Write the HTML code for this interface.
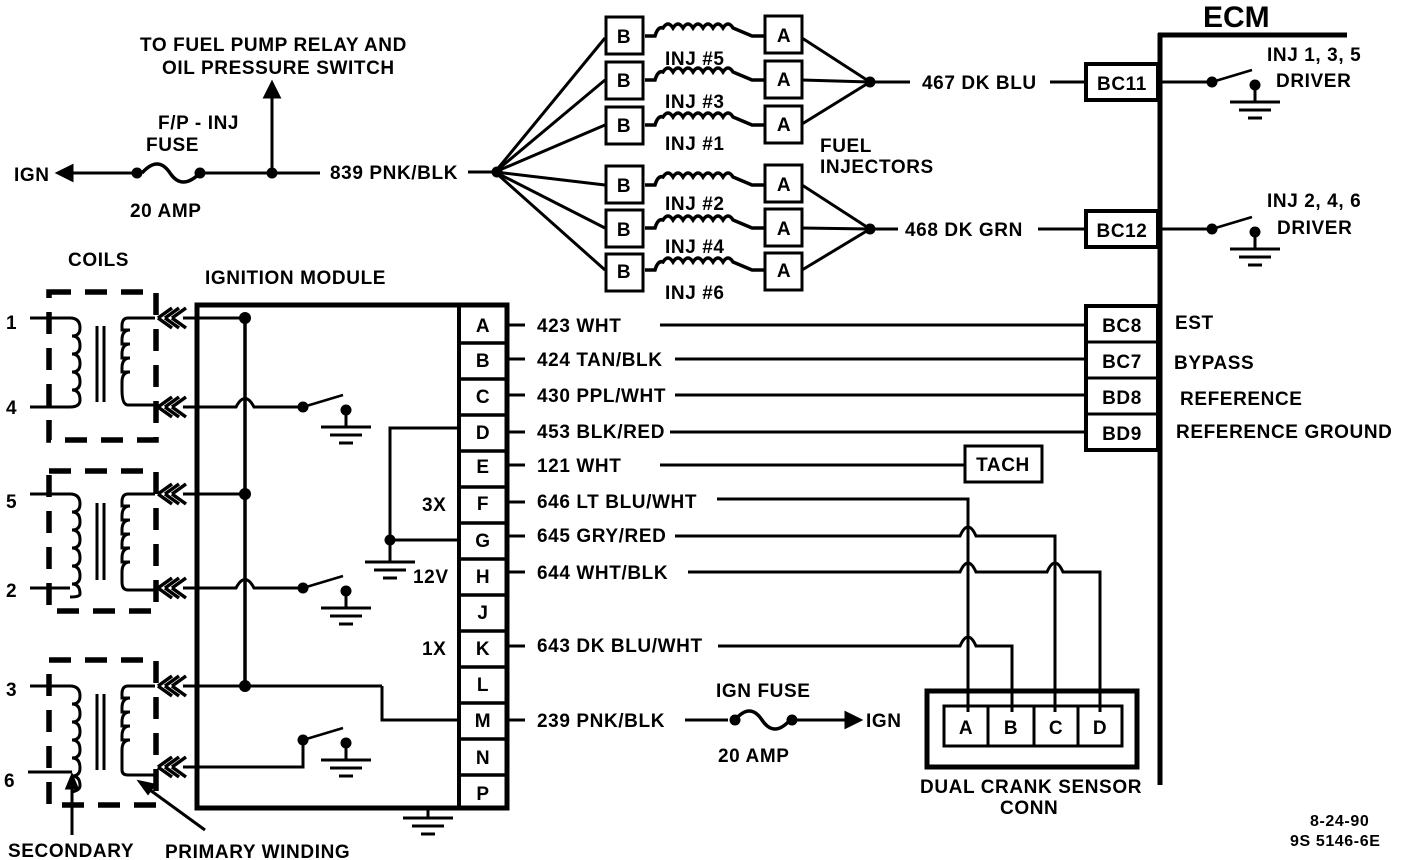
<!DOCTYPE html>
<html><head><style>
html,body{margin:0;padding:0;background:#fff;}
svg{display:block;}
text{font-family:"Liberation Sans",sans-serif;font-weight:bold;fill:#000;}
</style></head><body>
<svg width="1408" height="860" viewBox="0 0 1408 860" xmlns="http://www.w3.org/2000/svg">
<defs>
<g id="gnd"><line x1="-25" y1="0" x2="25" y2="0" stroke="#000" stroke-width="3"/><line x1="-16" y1="8" x2="16" y2="8" stroke="#000" stroke-width="3"/><line x1="-7" y1="16" x2="7" y2="16" stroke="#000" stroke-width="3"/></g>
<g id="sw"><circle cx="0" cy="0" r="5.5"/><line x1="0" y1="0" x2="40" y2="-12" stroke="#000" stroke-width="2.5"/><circle cx="43" cy="3" r="5.5"/><line x1="43" y1="3" x2="43" y2="20" stroke="#000" stroke-width="3"/><use href="#gnd" x="43" y="20"/></g>
<path id="icoil" d="M645,0 L655,0 Q658,-10 663,-8 q5,-8 10,0 q5,-8 10,0 q5,-8 10,0 q5,-8 10,0 q5,-8 10,0 q5,-8 10,0 q5,-8 10,0 L752,0 L765,0" fill="none" stroke="#000" stroke-width="3.5"/>
<g id="arr"><path d="M0,0 l14,-10 M0,0 l14,10 M7,0 l14,-10 M7,0 l14,10 M14,0 l14,-10 M14,0 l14,10" stroke="#000" stroke-width="3.5" fill="none"/></g>
</defs>
<g stroke="#000" fill="none" stroke-width="3">
<line x1="62" y1="173" x2="133" y2="173"/>
<path d="M58,173 l14,-7 v14 z" fill="#000"/>
<path d="M142,173 Q158,155 170,173 T200,173" stroke-width="3.5"/>
<line x1="205" y1="173" x2="320" y2="173"/>
<line x1="272" y1="173" x2="272" y2="95"/>
<path d="M272,83 l-7,14 h14 z" fill="#000"/>
<line x1="468" y1="172" x2="495" y2="172"/>
<line x1="495" y1="172" x2="605" y2="38"/>
<line x1="495" y1="172" x2="605" y2="80"/>
<line x1="495" y1="172" x2="605" y2="125"/>
<line x1="495" y1="172" x2="605" y2="185"/>
<line x1="495" y1="172" x2="605" y2="228"/>
<line x1="495" y1="172" x2="605" y2="270"/>
<rect x="606" y="17" width="37" height="37"/><rect x="606" y="62" width="37" height="37"/><rect x="606" y="107" width="37" height="37"/>
<rect x="606" y="166" width="37" height="37"/><rect x="606" y="210" width="37" height="37"/><rect x="606" y="254" width="37" height="37"/>
<rect x="765" y="16" width="37" height="37"/><rect x="765" y="61" width="37" height="37"/><rect x="765" y="106" width="37" height="37"/>
<rect x="765" y="165" width="37" height="37"/><rect x="765" y="209" width="37" height="37"/><rect x="765" y="253" width="37" height="37"/>
<line x1="802" y1="38" x2="870" y2="82"/><line x1="802" y1="80" x2="870" y2="82"/><line x1="802" y1="124" x2="870" y2="82"/>
<line x1="802" y1="185" x2="870" y2="229"/><line x1="802" y1="228" x2="870" y2="229"/><line x1="802" y1="270" x2="870" y2="229"/>
<line x1="870" y1="82" x2="910" y2="82"/><line x1="870" y1="229" x2="898" y2="229"/>
<line x1="1050" y1="82" x2="1086" y2="82"/><line x1="1038" y1="229" x2="1086" y2="229"/>
<line x1="1160" y1="33" x2="1160" y2="785" stroke-width="5"/>
<line x1="1158" y1="35" x2="1347" y2="35" stroke-width="5"/>
<rect x="1086" y="64" width="72" height="36" stroke-width="4"/>
<rect x="1086" y="211" width="72" height="36" stroke-width="4"/>
<rect x="1086" y="306" width="72" height="144" stroke-width="4"/>
<line x1="1086" y1="342" x2="1158" y2="342" stroke-width="3"/><line x1="1086" y1="378" x2="1158" y2="378" stroke-width="3"/><line x1="1086" y1="414" x2="1158" y2="414" stroke-width="3"/>
<line x1="1160" y1="82" x2="1212" y2="82"/><line x1="1160" y1="229" x2="1212" y2="229"/>
<rect x="197" y="305" width="310" height="503" stroke-width="5"/>
<line x1="459" y1="305" x2="459" y2="808" stroke-width="4"/>
<g stroke-width="3.5">
<line x1="459" y1="343" x2="507" y2="343"/><line x1="459" y1="379" x2="507" y2="379"/><line x1="459" y1="415" x2="507" y2="415"/><line x1="459" y1="451" x2="507" y2="451"/><line x1="459" y1="487" x2="507" y2="487"/><line x1="459" y1="523" x2="507" y2="523"/><line x1="459" y1="559" x2="507" y2="559"/><line x1="459" y1="595" x2="507" y2="595"/><line x1="459" y1="631" x2="507" y2="631"/><line x1="459" y1="667" x2="507" y2="667"/><line x1="459" y1="703" x2="507" y2="703"/><line x1="459" y1="739" x2="507" y2="739"/><line x1="459" y1="775" x2="507" y2="775"/>
</g>
<line x1="507" y1="325" x2="525" y2="325"/><line x1="660" y1="325" x2="1086" y2="325"/>
<line x1="507" y1="359" x2="525" y2="359"/><line x1="675" y1="359" x2="1086" y2="359"/>
<line x1="507" y1="395" x2="525" y2="395"/><line x1="675" y1="395" x2="1086" y2="395"/>
<line x1="507" y1="432" x2="525" y2="432"/><line x1="670" y1="432" x2="1086" y2="432"/>
<line x1="507" y1="465" x2="525" y2="465"/><line x1="660" y1="465" x2="965" y2="465"/>
<rect x="965" y="446" width="77" height="36"/>
<line x1="507" y1="502" x2="525" y2="502"/><path d="M717,499 H968 V712"/>
<line x1="507" y1="536" x2="525" y2="536"/><path d="M675,536 H960 Q968,518 976,536 H1055 V712"/>
<line x1="507" y1="572" x2="525" y2="572"/><path d="M688,572 H960 Q968,554 976,572 H1047 Q1055,554 1063,572 H1100 V712"/>
<line x1="507" y1="646" x2="525" y2="646"/><path d="M718,646 H960 Q968,628 976,646 H1012 V712"/>
<line x1="507" y1="720" x2="525" y2="720"/>
<line x1="685" y1="720" x2="728" y2="720"/>
<path d="M735,720 Q750,702 762,720 T790,720" stroke-width="3.5"/>
<line x1="795" y1="720" x2="845" y2="720"/>
<path d="M860,720 l-14,-7 v14 z" fill="#000"/>
<rect x="927" y="691" width="210" height="76" stroke-width="5"/>
<rect x="944" y="706" width="178" height="40"/>
<line x1="988" y1="706" x2="988" y2="746"/><line x1="1034" y1="706" x2="1034" y2="746"/><line x1="1078" y1="706" x2="1078" y2="746"/>
<line x1="245" y1="318" x2="245" y2="686" stroke-width="3.5"/>
<line x1="183" y1="318" x2="245" y2="318"/>
<line x1="183" y1="494" x2="245" y2="494"/>
<line x1="183" y1="686" x2="382" y2="686"/><path d="M382,686 V720 H459"/>
<path d="M183,407 H236 Q245,390 254,407 H303"/>
<path d="M183,588 H236 Q245,571 254,588 H303"/>
<path d="M183,767 H303 V740"/>
<path d="M459,428 H390 V540 H459"/>
<line x1="390" y1="540" x2="390" y2="562"/>
<line x1="428" y1="808" x2="428" y2="818"/>
<g stroke-width="5.5" stroke-dasharray="22,14">
<rect x="49" y="292" width="107" height="148"/>
<rect x="49" y="471" width="107" height="140"/>
<rect x="49" y="660" width="107" height="145"/>
</g>
<g stroke-width="3">
<line x1="30" y1="318" x2="70" y2="318"/><line x1="30" y1="407" x2="70" y2="407"/>
<path d="M70,318 q10,0 10,10 q0,8 -8,8 q8,0 8,10 q0,8 -8,8 q8,0 8,10 q0,8 -8,8 q8,0 8,10 q0,8 -8,8 q8,0 8,10 q0,7 -10,7"/>
<path d="M155,318 H128 q-6,0 -6,8 v4 h8 q-8,0 -8,10 v4 h8 q-8,0 -8,10 v4 h8 q-8,0 -8,10 v4 h8 q-8,0 -8,10 v8 q0,15 6,15 H155"/>
<line x1="97" y1="326" x2="97" y2="402"/><line x1="104" y1="326" x2="104" y2="402"/>
<line x1="30" y1="494" x2="70" y2="494"/><line x1="30" y1="588" x2="70" y2="588"/>
<path d="M70,494 q10,0 10,10 q0,8 -8,8 q8,0 8,10 q0,8 -8,8 q8,0 8,10 q0,8 -8,8 q8,0 8,10 q0,8 -8,8 q8,0 8,10 q0,8 -8,8 q8,0 8,10 q0,3 -10,3"/>
<path d="M155,494 H128 q-6,0 -6,8 v4 h8 q-8,0 -8,10 v4 h8 q-8,0 -8,10 v4 h8 q-8,0 -8,10 v4 h8 q-8,0 -8,10 v4 h8 q-8,0 -8,10 v10 q0,8 6,8 H155"/>
<line x1="97" y1="503" x2="97" y2="580"/><line x1="104" y1="503" x2="104" y2="580"/>
<line x1="30" y1="686" x2="70" y2="686"/><line x1="28" y1="772" x2="72" y2="772"/>
<path d="M70,686 q10,0 10,10 q0,8 -8,8 q8,0 8,10 q0,8 -8,8 q8,0 8,10 q0,8 -8,8 q8,0 8,10 q0,8 -8,8 q8,0 8,10 q0,8 -8,8 q8,0 8,10 q0,4 -8,6"/>
<path d="M155,686 H128 q-6,0 -6,8 v4 h8 q-8,0 -8,10 v4 h8 q-8,0 -8,10 v4 h8 q-8,0 -8,10 v4 h8 q-8,0 -8,10 v20 q0,5 6,5 H155"/>
<line x1="97" y1="694" x2="97" y2="770"/><line x1="104" y1="694" x2="104" y2="770"/>
<line x1="72" y1="835" x2="72" y2="785"/><path d="M72,776 l-5,12 h10 z" fill="#000"/>
<line x1="205" y1="830" x2="150" y2="790"/><path d="M140,782 l14,3 -6,8 z" fill="#000"/>
</g>
</g>
<use href="#arr" x="158" y="318"/><use href="#arr" x="158" y="407"/>
<use href="#arr" x="158" y="494"/><use href="#arr" x="158" y="588"/>
<use href="#arr" x="158" y="686"/><use href="#arr" x="158" y="767"/>
<use href="#icoil" y="36"/><use href="#icoil" y="80"/><use href="#icoil" y="125"/>
<use href="#icoil" y="185"/><use href="#icoil" y="228"/><use href="#icoil" y="270"/>
<g fill="#000">
<circle cx="137" cy="173" r="5.5"/><circle cx="200" cy="173" r="5.5"/><circle cx="272" cy="173" r="5.5"/>
<circle cx="497" cy="172" r="5.5"/><circle cx="870" cy="82" r="5.5"/><circle cx="870" cy="229" r="5.5"/>
<circle cx="245" cy="318" r="6"/><circle cx="245" cy="494" r="6"/><circle cx="245" cy="686" r="6"/>
<circle cx="390" cy="540" r="5.5"/><circle cx="735" cy="720" r="5.5"/><circle cx="792" cy="720" r="5.5"/>
</g>
<use href="#sw" x="303" y="407"/><use href="#sw" x="303" y="588"/><use href="#sw" x="303" y="740"/>
<use href="#sw" x="1212" y="82"/><use href="#sw" x="1212" y="229"/>
<use href="#gnd" x="390" y="562"/><use href="#gnd" x="428" y="818"/>
<g font-size="19" letter-spacing="0.6">
<text x="140" y="51">TO FUEL PUMP RELAY AND</text>
<text x="162" y="74">OIL PRESSURE SWITCH</text>
<text x="158" y="129">F/P - INJ</text>
<text x="146" y="151">FUSE</text>
<text x="14" y="181">IGN</text>
<text x="130" y="217">20  AMP</text>
<text x="330" y="179">839 PNK/BLK</text>
<g text-anchor="middle">
<text x="624" y="43">B</text><text x="624" y="87">B</text><text x="624" y="132">B</text><text x="624" y="192">B</text><text x="624" y="236">B</text><text x="624" y="278">B</text>
<text x="784" y="42">A</text><text x="784" y="86">A</text><text x="784" y="131">A</text><text x="784" y="191">A</text><text x="784" y="235">A</text><text x="784" y="277">A</text>
<text x="1122" y="90">BC11</text><text x="1122" y="237">BC12</text>
<text x="1122" y="332">BC8</text><text x="1122" y="368">BC7</text><text x="1122" y="404">BD8</text><text x="1122" y="440">BD9</text>
<text x="483" y="332">A</text><text x="483" y="367">B</text><text x="483" y="403">C</text><text x="483" y="439">D</text><text x="483" y="473">E</text><text x="483" y="510">F</text><text x="483" y="547">G</text><text x="483" y="583">H</text><text x="483" y="619">J</text><text x="483" y="655">K</text><text x="483" y="691">L</text><text x="483" y="727">M</text><text x="483" y="764">N</text><text x="483" y="800">P</text>
<text x="966" y="734">A</text><text x="1011" y="734">B</text><text x="1056" y="734">C</text><text x="1100" y="734">D</text>
<text x="1003" y="471">TACH</text>
</g>
<text x="665" y="65">INJ #5</text><text x="665" y="108">INJ #3</text><text x="665" y="150">INJ #1</text>
<text x="665" y="210">INJ #2</text><text x="665" y="253">INJ #4</text><text x="665" y="299">INJ #6</text>
<text x="820" y="152">FUEL</text><text x="820" y="173">INJECTORS</text>
<text x="922" y="89">467 DK BLU</text><text x="905" y="236">468 DK GRN</text>
<text x="1267" y="61">INJ 1, 3, 5</text><text x="1276" y="87">DRIVER</text>
<text x="1267" y="207">INJ 2, 4, 6</text><text x="1277" y="234">DRIVER</text>
<text x="1175" y="329">EST</text><text x="1174" y="369">BYPASS</text><text x="1180" y="405">REFERENCE</text><text x="1176" y="438">REFERENCE GROUND</text>
<text x="68" y="266">COILS</text>
<text x="205" y="284">IGNITION MODULE</text>
<text x="6" y="329">1</text><text x="6" y="414">4</text><text x="6" y="508">5</text><text x="6" y="597">2</text><text x="6" y="696">3</text><text x="4" y="787">6</text>
<text x="422" y="511">3X</text><text x="413" y="583">12V</text><text x="422" y="655">1X</text>
<text x="537" y="332">423 WHT</text><text x="537" y="366">424 TAN/BLK</text><text x="537" y="402">430 PPL/WHT</text><text x="537" y="438">453 BLK/RED</text><text x="537" y="472">121 WHT</text>
<text x="537" y="508">646 LT BLU/WHT</text><text x="537" y="542">645 GRY/RED</text><text x="537" y="579">644 WHT/BLK</text><text x="537" y="652">643 DK BLU/WHT</text><text x="537" y="727">239 PNK/BLK</text>
<text x="716" y="697">IGN FUSE</text><text x="718" y="762">20  AMP</text><text x="866" y="727">IGN</text>
<text x="920" y="793">DUAL CRANK SENSOR</text><text x="1000" y="814">CONN</text>
<text x="8" y="857">SECONDARY</text><text x="165" y="858">PRIMARY WINDING</text>
<text x="1310" y="826" font-size="16">8-24-90</text><text x="1290" y="846" font-size="16">9S 5146-6E</text>
</g>
<text x="1203" y="27" font-size="30">ECM</text>
</svg>
</body></html>
